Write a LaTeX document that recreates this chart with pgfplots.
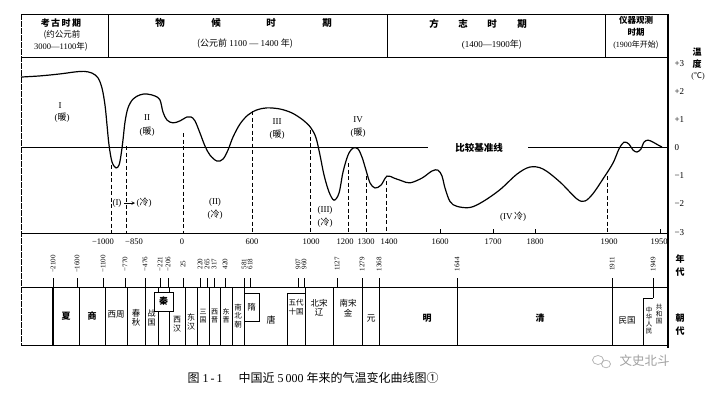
\documentclass[border=0pt]{standalone}
\usepackage{pgfplots}
\usepackage{pgfplotstable}
\pgfplotsset{compat=1.18}
\usepackage{fontspec}
\setmainfont{Liberation Serif}
\newfontfamily\cjk{Noto Sans CJK SC}
\newcommand{\zh}[1]{{\cjk #1}}
\newcommand{\fz}[1]{\fontsize{#1}{#1}\selectfont}
\pgfplotstableread{
pos T
21 2.49
40 2.53
60 2.60
75 2.67
84 2.69
92 2.63
98 2.46
102 2.10
105 1.50
107 0.80
109 0.09
112 -0.51
116 -0.72
119 -0.62
121 -0.27
123 0.27
125 0.90
128 1.40
133 1.71
140 1.86
147 1.89
155 1.82
160 1.68
163 1.25
167 0.97
173 0.87
180 0.94
187 1.08
191 1.08
195 0.94
200 0.51
205 0.05
210 -0.27
217 -0.48
223 -0.41
228 -0.09
233 0.37
240 0.83
248 1.15
257 1.33
267 1.40
280 1.36
292 1.22
303 0.97
311 0.69
316 0.34
320 -0.27
324 -0.97
329 -1.57
334 -1.86
339 -1.61
343 -0.87
348 -0.27
353 -0.02
358 -0.05
362 -0.34
366 -0.80
370 -1.25
375 -1.43
381 -1.33
387 -1.01
394 -1.08
402 -1.18
410 -1.25
422 -1.08
432 -0.83
438 -0.80
442 -1.01
445 -1.43
450 -1.91
457 -2.08
470 -2.12
483 -1.91
500 -1.49
517 -0.94
530 -0.69
543 -0.76
560 -1.22
577 -1.82
585 -1.89
593 -1.63
603 -1.11
613 -0.55
619 -0.05
624 0.19
629 0.12
633 -0.09
637 -0.16
641 -0.05
644 0.19
648 0.26
653 0.19
658 0.09
662 0.02
}\curve
\begin{document}
\begin{tikzpicture}
\begin{axis}[x=1pt,y=1pt,xmin=0,xmax=713,ymin=0,ymax=395,y dir=reverse,
  hide axis, clip=false, anchor=origin]
\fill[white] (0,0) rectangle (713,395);
% ---------- frame / header ----------
\draw[line width=0.8pt] (21,14) -- (668,14);
\draw[line width=0.8pt] (21,57) -- (668,57);
\draw[line width=0.7pt, dash pattern=on 6pt off 1pt] (21,14) -- (21,345);
\draw[line width=0.8pt] (108,14) -- (108,57);
\draw[line width=0.8pt] (387,14) -- (387,57);
\draw[line width=0.8pt] (605,14) -- (605,57);
\draw[line width=1.4pt] (668,14) -- (668,348);
\node[font=\cjk\bfseries\fz{9}] at (61,23) {考\,古\,时\,期};
\node[font=\fz{8.5}] at (62,35) {\zh{(约公元前}};
\node[font=\fz{8.5}] at (61,46.5) {3000—1100\zh{年)}};
\foreach \xx/\lab in {160/物,216/候,271/时,327/期}{
  \edef\tmp{\noexpand\node[font=\noexpand\cjk\noexpand\bfseries\noexpand\fz{9.5}] at (\xx,23) {\lab};}\tmp}
\node[font=\fz{9}] at (245,43.5) {\zh{(公元前} 1100 — 1400 \zh{年)}};
\foreach \xx/\lab in {434/方,463/志,492/时,522/期}{
  \edef\tmp{\noexpand\node[font=\noexpand\cjk\noexpand\bfseries\noexpand\fz{9.5}] at (\xx,24) {\lab};}\tmp}
\node[font=\fz{9}] at (492,45) {(1400—1900\zh{年)}};
\node[font=\cjk\bfseries\fz{8.5}] at (636,20) {仪器观测};
\node[font=\cjk\bfseries\fz{8.5}] at (636,32) {时期};
\node[font=\fz{8}] at (636,44.5) {(1900\zh{年开始)}};
% temperature label and ticks
\node[font=\cjk\bfseries\fz{9}] at (697,52) {温};
\node[font=\cjk\bfseries\fz{9}] at (697,64) {度};
\node[font=\fz{8}] at (698,76) {(\zh{℃})};
\foreach \yy/\lab in {64/+3,92/+2,120/+1,148/0,176/−1,204/−2,233/−3}{
  \edef\tmp{\noexpand\node[font=\noexpand\fz{9}, anchor=west] at (671,\yy) {\lab};}\tmp}
% ---------- plot area ----------
\draw[line width=0.9pt] (21,233) -- (668,233);
\draw[line width=0.8pt] (21,147.5) -- (428,147.5);
\draw[line width=0.8pt] (528,147.5) -- (668,147.5);
\node[font=\cjk\bfseries\fz{9.5}] at (479,147.5) {比较基准线};
\addplot[black, line width=1.2pt, smooth, tension=0.55] table[x=pos, y expr={147.5-28.3*\thisrow{T}}] {\curve};
% dashed period boundaries
\foreach \xx/\yt in {111/165,126/146,183/133,252/111,310/130,348/163,366/176,386/181,607/176}{
  \edef\tmp{\noexpand\draw[line width=0.8pt, dash pattern=on 4pt off 2.5pt] (\xx,\yt) -- (\xx,233);}\tmp}
% small ticks on time axis
\foreach \xx in {440,493,535,660}{
  \edef\tmp{\noexpand\draw[line width=0.8pt] (\xx,229) -- (\xx,233);}\tmp}
% period labels
\node[font=\fz{9}] at (60,106) {I};
\node[font=\fz{9}] at (62,118) {(\zh{暖})};
\node[font=\fz{9}] at (147,118) {II};
\node[font=\fz{9}] at (147,132) {(\zh{暖})};
\node[font=\fz{9}] at (277,122) {III};
\node[font=\fz{9}] at (277,135) {(\zh{暖})};
\node[font=\fz{9}] at (358,120) {IV};
\node[font=\fz{9}] at (358,133) {(\zh{暖})};
\node[font=\fz{9}] at (117,203) {(I)};
\draw[line width=0.6pt, -stealth] (124,203) -- (135,203);
\node[font=\fz{9}] at (144,203) {(\zh{冷})};
\node[font=\fz{9}] at (215,202) {(II)};
\node[font=\fz{9}] at (215,215) {(\zh{冷})};
\node[font=\fz{9}] at (325,210) {(III)};
\node[font=\fz{9}] at (325,223) {(\zh{冷})};
\node[font=\fz{9}] at (513,217) {(IV\,\zh{冷})};
% time axis labels
\foreach \xx/\lab in {103/−1000,134/−850,182/0,252/600,311/1000,345/1200,366/1300,389/1400,440/1600,493/1700,535/1800,609/1900,659/1950}{
  \edef\tmp{\noexpand\node[font=\noexpand\fz{8.5}] at (\xx,241.5) {\lab};}\tmp}
% ---------- dynasty years ----------
\foreach \xx/\lab in {53/−2100,77/−1600,103/−1100,125/−770,145/−476,160/−221,168/−206,183/25,200/220,207/265,214/317,225/420,244/581,250/618,298/907,304/960,337/1127,362/1279,379/1368,457/1644,612/1911,653/1949}{
  \edef\tmp{\noexpand\node[font=\noexpand\fz{7}, rotate=90] at (\xx,264) {\lab};
  \noexpand\draw[line width=0.7pt] (\xx,278) -- (\xx,287);}\tmp}
\node[font=\cjk\bfseries\fz{9}] at (680,259) {年};
\node[font=\cjk\bfseries\fz{9}] at (680,272) {代};
\node[font=\cjk\bfseries\fz{9}] at (680,318) {朝};
\node[font=\cjk\bfseries\fz{9}] at (680,331) {代};
% ---------- dynasty table ----------
\draw[line width=0.9pt] (21,287) -- (668,287);
\draw[line width=0.9pt] (21,345) -- (668,345);
\foreach \xx in {53,79,105,127,145,158,169,185,197,209,220,232,244,305,333,362,379,457,612}{
  \edef\tmp{\noexpand\draw[line width=0.7pt] (\xx,287) -- (\xx,345);}\tmp}
\draw[line width=1.1pt] (53,287) -- (53,345);
\draw[line width=0.7pt] (287,293) -- (287,345);
\draw[line width=0.7pt, fill=white] (154,292) rectangle (173,311);
\draw[line width=0.7pt, fill=white] (244,293) rectangle (259,321);
\draw[line width=0.7pt] (287,293) -- (305,293);
\draw[line width=0.7pt] (643,298) -- (653,298) (643,298) -- (643,345);
\draw[line width=0.7pt] (653,287) -- (653,298);
\node[font=\cjk\bfseries\fz{9}] at (66,316) {夏};
\node[font=\cjk\bfseries\fz{9}] at (92,316) {商};
\node[font=\cjk\fz{8.5}] at (116,314) {西周};
\node[font=\cjk\fz{8.5}, align=center] at (136,318) {春\\[1pt]秋};
\node[font=\cjk\fz{8}, align=center] at (151.5,318) {战\\[1pt]国};
\node[font=\cjk\bfseries\fz{9}] at (163.5,301.5) {秦};
\node[font=\cjk\fz{8}, align=center] at (177,324) {西\\[1pt]汉};
\node[font=\cjk\fz{8}, align=center] at (191,322) {东\\[1pt]汉};
\node[font=\cjk\fz{7}, align=center] at (203,316) {三\\[1pt]国};
\node[font=\cjk\fz{7}, align=center] at (214.5,316) {西\\[1pt]晋};
\node[font=\cjk\fz{7}, align=center] at (226,316) {东\\[1pt]晋};
\node[font=\cjk\fz{7.5}, align=center] at (238,316) {南\\[1pt]北\\[1pt]朝};
\node[font=\cjk\fz{8.5}] at (251.5,307) {隋};
\node[font=\cjk\fz{9}] at (271,320) {唐};
\node[font=\cjk\fz{7.5}, align=center] at (296,307) {五代\\[1pt]十国};
\node[font=\cjk\fz{8.5}, align=center] at (319,308) {北宋\\[1pt]辽};
\node[font=\cjk\fz{8.5}, align=center] at (348,308) {南宋\\[1pt]金};
\node[font=\cjk\fz{9}] at (371,318) {元};
\node[font=\cjk\bfseries\fz{9}] at (427,318) {明};
\node[font=\cjk\bfseries\fz{9}] at (540,318) {清};
\node[font=\cjk\fz{8.5}] at (627,320) {民国};
\node[font=\cjk\fz{6.5}, align=center] at (649,321) {中\\[0.5pt]华\\[0.5pt]人\\[0.5pt]民};
\node[font=\cjk\fz{6.5}, align=center] at (659,314) {共\\[0.5pt]和\\[0.5pt]国};
% ---------- caption ----------
\node[font=\fz{12}, anchor=west] at (184,378) {\zh{图} 1\,-\,1\hspace{16pt}\zh{中国近} 5\,000 \zh{年来的气温变化曲线图①}};
% watermark
\draw[gray!60, line width=0.7pt] (598,360) ellipse (5.5pt and 4.5pt);
\draw[gray!60, line width=0.7pt] (606,364) ellipse (4.5pt and 3.8pt);
\node[font=\cjk\fz{12.5}, text=gray!75, anchor=west] at (616,361) {文史北斗};
\end{axis}
\end{tikzpicture}
\end{document}
